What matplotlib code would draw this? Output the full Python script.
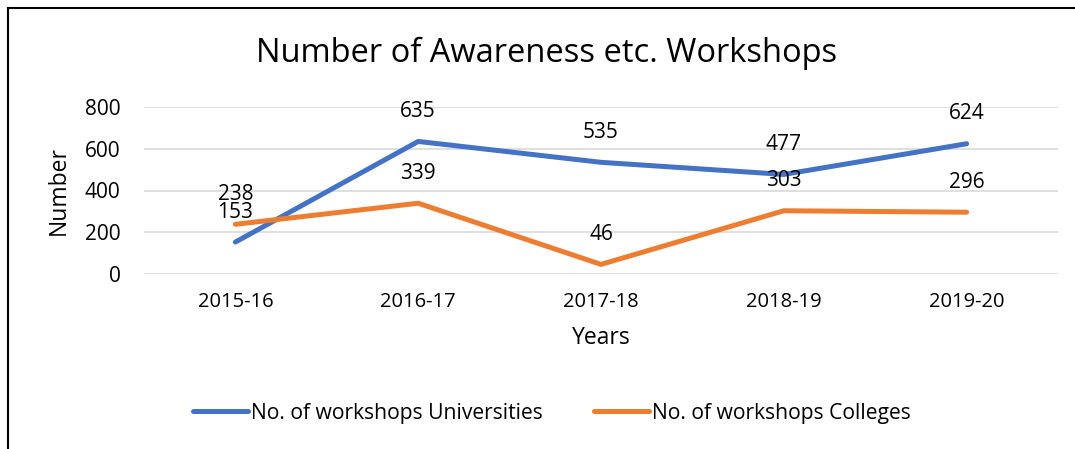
import matplotlib
matplotlib.use("Agg")
from matplotlib import pyplot as plt
from matplotlib.lines import Line2D

years = ["2015-16", "2016-17", "2017-18", "2018-19", "2019-20"]
universities = [153, 635, 535, 477, 624]
colleges = [238, 339, 46, 303, 296]
yticks = [0, 200, 400, 600, 800]

blue = "#4472C4"
orange = "#ED7D31"
plt.rcParams['font.family'] = ['Open Sans', 'DejaVu Sans']

fig = plt.figure(figsize=(10.75, 4.49), dpi=100)
ax = fig.add_axes([144 / 1075, 1 - 274 / 449, (1058 - 144) / 1075, (274 - 107) / 449])

x = list(range(len(years)))
ax.plot(x, universities, color=blue, lw=3.6, solid_capstyle='round', zorder=3)
ax.plot(x, colleges, color=orange, lw=3.6, solid_capstyle='round', zorder=3)

# data labels above each point
for xi, v in zip(x, universities):
    ax.annotate(str(v), (xi, v), xytext=(0, 14), textcoords='offset points',
                ha='center', va='bottom', fontsize=15)
for xi, v in zip(x, colleges):
    ax.annotate(str(v), (xi, v), xytext=(0, 14), textcoords='offset points',
                ha='center', va='bottom', fontsize=15)

ax.set_xlim(-0.5, len(years) - 0.5)
ax.set_ylim(0, 800)
ax.set_yticks(yticks)
ax.set_xticks(x)
ax.set_xticklabels(years)
ax.tick_params(axis='both', length=0)
ax.tick_params(axis='x', pad=13, labelsize=14.5)
ax.tick_params(axis='y', pad=17, labelsize=15)
ax.grid(axis='y', color='#D9D9D9', lw=1.2)
ax.set_axisbelow(True)
for s in ax.spines.values():
    s.set_visible(False)

ax.set_xlabel("Years", fontsize=16.5, labelpad=10)
ax.set_ylabel("Number", fontsize=16.5)
ax.yaxis.set_label_coords(-0.08, 0.5)
fig.text(547 / 1075, 1 - 53 / 449, "Number of Awareness etc. Workshops",
         ha='center', va='center', fontsize=23.5)

handles = [Line2D([], [], color=blue, lw=3.6, solid_capstyle='round'),
           Line2D([], [], color=orange, lw=3.6, solid_capstyle='round')]
fig.legend(handles, ["No. of workshops Universities", "No. of workshops Colleges"],
           loc='center', bbox_to_anchor=(552 / 1075, 1 - 413 / 449), ncol=2,
           frameon=False, fontsize=15.2, handlelength=2.6, handletextpad=0.15,
           columnspacing=2.4)

# border of the chart frame
fig.add_artist(Line2D([8 / 1075, 8 / 1075], [0, 1 - 8 / 449], color='black', lw=1.5))
fig.add_artist(Line2D([8 / 1075, 1], [1 - 8 / 449, 1 - 8 / 449], color='black', lw=1.5))

fig.savefig("out.png", dpi=100)
